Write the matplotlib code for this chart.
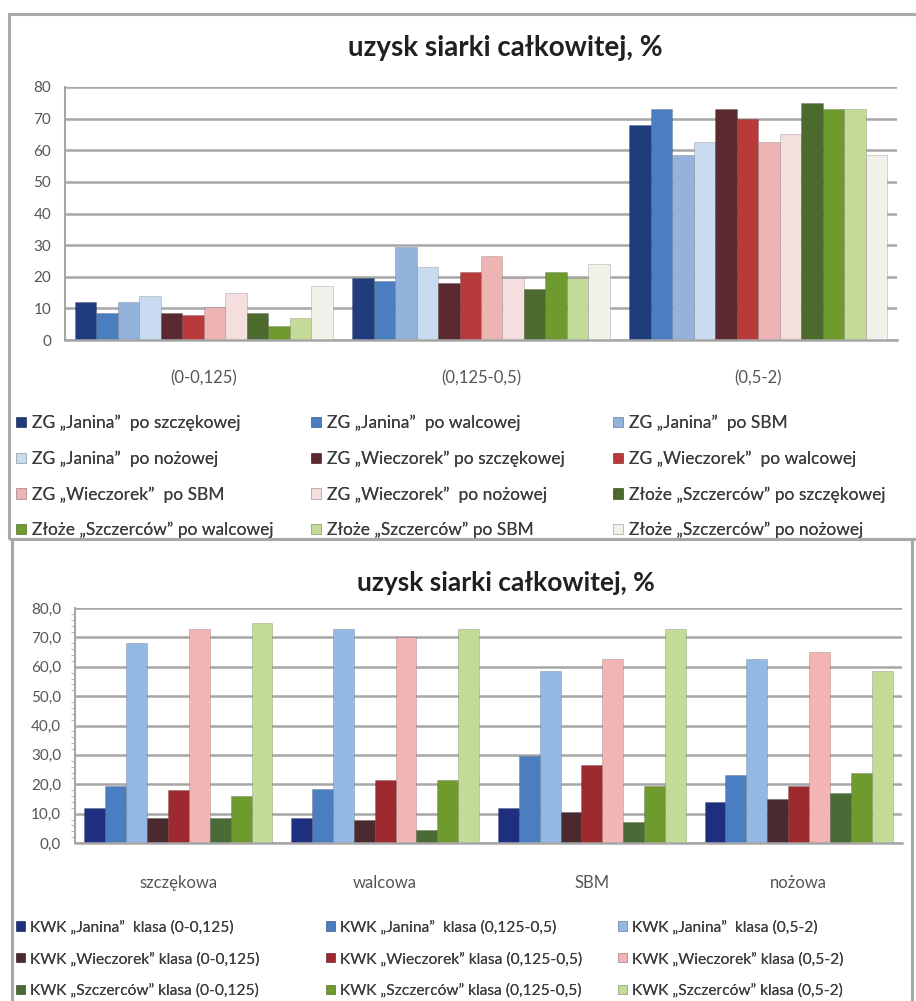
import matplotlib
matplotlib.use("Agg")
import numpy as np
import matplotlib.pyplot as plt
from matplotlib.patches import Rectangle

plt.rcParams['font.family'] = ['Lato', 'DejaVu Sans']

# data: uzysk siarki [%] for each mine / crusher, classes (0-0,125), (0,125-0,5), (0,5-2)
classes = ['(0-0,125)', '(0,125-0,5)', '(0,5-2)']
crushers = ['szczękowa', 'walcowa', 'SBM', 'nożowa']
janina = [[12, 19.5, 68], [8.5, 18.5, 73], [12, 29.5, 58.5], [14, 23, 62.5]]
wieczorek = [[8.5, 18, 73], [8, 21.5, 70], [10.5, 26.5, 62.5], [15, 19.5, 65]]
szczercow = [[8.5, 16, 75], [4.5, 21.5, 73], [7, 19.5, 73], [17, 24, 58.5]]

top_labels = ['ZG \u201eJanina\u201d  po szczękowej', 'ZG \u201eJanina\u201d  po walcowej', 'ZG \u201eJanina\u201d  po SBM',
              'ZG \u201eJanina\u201d  po nożowej', 'ZG \u201eWieczorek\u201d po szczękowej', 'ZG \u201eWieczorek\u201d  po walcowej',
              'ZG \u201eWieczorek\u201d  po SBM', 'ZG \u201eWieczorek\u201d  po nożowej', 'Złoże \u201eSzczerców\u201d po szczękowej',
              'Złoże \u201eSzczerców\u201d po walcowej', 'Złoże \u201eSzczerców\u201d po SBM', 'Złoże \u201eSzczerców\u201d po nożowej']
bot_labels = ['KWK \u201eJanina\u201d  klasa (0-0,125)', 'KWK \u201eJanina\u201d  klasa (0,125-0,5)', 'KWK \u201eJanina\u201d  klasa (0,5-2)',
              'KWK \u201eWieczorek\u201d klasa (0-0,125)', 'KWK \u201eWieczorek\u201d klasa (0,125-0,5)', 'KWK \u201eWieczorek\u201d klasa (0,5-2)',
              'KWK \u201eSzczerców\u201d klasa (0-0,125)', 'KWK \u201eSzczerców\u201d klasa (0,125-0,5)', 'KWK \u201eSzczerców\u201d klasa (0,5-2)']

top_colors = ['#1f3c7c', '#4a7ec0', '#93b3dc', '#c9dbf0',
              '#5a2a30', '#b83a3a', '#eeb4b4', '#f4dede',
              '#4d6a2e', '#6e9a2e', '#c4da98', '#f0f2ea']
bot_colors = ['#1f2f80', '#4a7ec0', '#93b8e4',
              '#4a2a2e', '#9c2a2e', '#f2b4b4',
              '#4a6a36', '#6e9a2e', '#c2dc98']

txt = '#3c3c3c'

fig = plt.figure(figsize=(9.16, 10.01), dpi=100)

# panel frames
fig.patches.append(Rectangle((9/916, 1-539/1001), 1.2, 525/1001, transform=fig.transFigure,
                             fill=False, edgecolor='#a8a8a8', lw=2.2))
fig.patches.append(Rectangle((12/916, -0.01), 900/916, 1-539/1001+0.01, transform=fig.transFigure,
                             fill=False, edgecolor='#a8a8a8', lw=2.2))


def style(ax, fmt, pad):
    ax.set_ylim(0, 80)
    ax.set_yticks(np.arange(0, 81, 10))
    ax.set_yticklabels([fmt(v) for v in range(0, 81, 10)], fontsize=11, color='#555555')
    ax.yaxis.grid(True, color='#a6a6a6', lw=1.8)
    ax.set_axisbelow(True)
    for s in ['top', 'right']:
        ax.spines[s].set_visible(False)
    ax.spines['left'].set_color('#a6a6a6')
    ax.spines['bottom'].set_color('#a6a6a6')
    ax.spines['left'].set_linewidth(1.5)
    ax.spines['bottom'].set_linewidth(1.8)
    ax.tick_params(axis='y', length=0, pad=10)
    ax.tick_params(axis='x', length=0, pad=pad, labelsize=12, labelcolor='#555555')


def legend_cols(h, l, xs, ytop, rowsp, fs):
    # three legends, filled row by row like in Excel
    for j, xp in enumerate(xs):
        leg = fig.legend(h[j::3], l[j::3], loc='upper left', bbox_to_anchor=(xp/916, 1-ytop/1001),
                         frameon=False, fontsize=fs, labelcolor=txt, handlelength=0.55, handleheight=0.55,
                         handletextpad=0.35, labelspacing=rowsp, borderpad=0, borderaxespad=0)
        fig.add_artist(leg)


# top chart: groups = classes, 12 series
ax1 = fig.add_axes([65/916, 1-340/1001, 832/916, 253/1001])
top_series = []
for mine in [janina, wieczorek, szczercow]:
    for c in range(4):
        top_series.append([mine[c][k] for k in range(3)])
n = len(top_series)
w = 0.93 / n
x = np.arange(len(classes))
for i, vals in enumerate(top_series):
    ax1.bar(x - 0.465 + w * (i + 0.5), vals, w, color=top_colors[i],
            edgecolor='#00000030', lw=0.6, label=top_labels[i])
ax1.set_xlim(-0.5, 2.5)
ax1.set_xticks(x)
ax1.set_xticklabels(classes)
style(ax1, lambda v: str(v), 22)
fig.text(0.552, 1-48/1001, 'uzysk siarki całkowitej, %', ha='center', va='center',
         fontsize=20, fontweight='bold', color='#202020')
h, l = ax1.get_legend_handles_labels()
legend_cols(h, l, [16, 311, 613], 415, 1.11, 12.5)

# bottom chart: groups = crushers, 9 series
ax2 = fig.add_axes([75/916, 1-843/1001, 827/916, 235/1001])
bot_series = []
for mine in [janina, wieczorek, szczercow]:
    for k in range(3):
        bot_series.append([mine[c][k] for c in range(4)])
m = len(bot_series)
w2 = 0.91 / m
x2 = np.arange(len(crushers))
for i, vals in enumerate(bot_series):
    ax2.bar(x2 - 0.455 + w2 * (i + 0.5), vals, w2, color=bot_colors[i],
            edgecolor='#00000030', lw=0.6, label=bot_labels[i])
ax2.set_xlim(-0.5, 3.5)
ax2.set_xticks(x2)
ax2.set_xticklabels(crushers)
style(ax2, lambda v: f'{v:.1f}'.replace('.', ','), 23)
ax2.set_yticks(np.arange(0, 81, 2), minor=True)
ax2.tick_params(axis='y', which='minor', length=3, color='#a6a6a6', direction='out')
fig.text(0.552, 1-583/1001, 'uzysk siarki całkowitej, %', ha='center', va='center',
         fontsize=19, fontweight='bold', color='#202020')
h, l = ax2.get_legend_handles_labels()
legend_cols(h, l, [16, 326, 618], 920, 1.1, 11.2)

fig.savefig('out.png', dpi=100, facecolor='white')
